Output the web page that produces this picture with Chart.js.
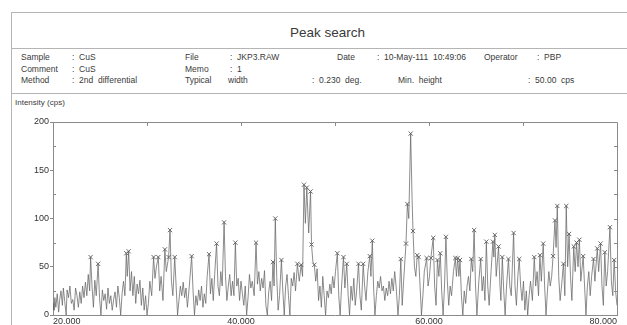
<!DOCTYPE html>
<html><head><meta charset="utf-8">
<script src="https://cdn.jsdelivr.net/npm/chart.js@4/dist/chart.umd.min.js"></script>
<style>
html,body{margin:0;padding:0;width:627px;height:325px;overflow:hidden;background:#fff;}
.t{position:absolute;font-family:"Liberation Sans",Arial,sans-serif;font-size:8.5px;line-height:10px;color:#3a3a3a;white-space:pre;}
.ln{position:absolute;background:#b5b5b5;}
#c{position:absolute;left:0;top:0;}
</style></head><body>
<div class="ln" style="left:11px;top:12px;width:616px;height:1px"></div>
<div class="ln" style="left:11px;top:12px;width:1px;height:313px"></div>
<div class="ln" style="left:11px;top:48px;width:616px;height:1px"></div>
<div class="ln" style="left:11px;top:93px;width:616px;height:1px"></div>
<div class="t" style="left:290px;top:25px;font-size:13.5px;line-height:16px;">Peak search</div>
<div class="t" style="left:21px;top:52px">Sample</div>
<div class="t" style="left:72px;top:52px">:  CuS</div>
<div class="t" style="left:185px;top:52px">File</div>
<div class="t" style="left:230px;top:52px">:  JKP3.RAW</div>
<div class="t" style="left:337px;top:52px">Date</div>
<div class="t" style="left:377px;top:52px">:  10-May-111  10:49:06</div>
<div class="t" style="left:484px;top:52px">Operator</div>
<div class="t" style="left:537px;top:52px">:  PBP</div>
<div class="t" style="left:21px;top:64px">Comment</div>
<div class="t" style="left:72px;top:64px">:  CuS</div>
<div class="t" style="left:185px;top:64px">Memo</div>
<div class="t" style="left:230px;top:64px">:  1</div>
<div class="t" style="left:21px;top:75px">Method</div>
<div class="t" style="left:72px;top:75px">:  2nd  differential</div>
<div class="t" style="left:185px;top:75px">Typical</div>
<div class="t" style="left:228px;top:75px">width</div>
<div class="t" style="left:312px;top:75px">:  0.230  deg.</div>
<div class="t" style="left:398px;top:75px">Min.  height</div>
<div class="t" style="left:528px;top:75px">:  50.00  cps</div>
<div class="t" style="left:15px;top:98px;font-size:8px;">Intensity (cps)</div>
<canvas id="c" width="627" height="340"></canvas>
<script>
const twoTheta = [
20.0,20.1,20.2,20.3,20.45,20.6,20.7,20.85,21.0,21.1,21.25,21.4,21.5,21.65,21.8,21.95,22.1,22.25,22.4,22.55,22.7,22.85,23.0,23.15,23.3,23.45,23.6,23.75,23.9,24.0,24.15,24.3,24.45,24.6,24.8,24.95,
25.1,25.25,25.4,25.55,25.7,25.85,26.0,26.15,26.3,26.45,26.6,26.75,26.9,27.05,27.2,27.35,27.5,27.65,27.8,27.9,28.05,28.2,28.35,28.5,28.65,28.8,28.95,29.1,29.25,29.4,29.55,29.7,29.85,
30.0,30.15,30.3,30.5,30.7,30.85,31.0,31.2,31.35,31.5,31.7,31.9,32.05,32.3,32.45,32.6,32.75,32.95,33.1,33.25,33.4,33.55,33.7,33.85,34.0,34.15,34.3,34.5,34.75,34.9,
35.05,35.2,35.35,35.5,35.65,35.8,35.95,36.1,36.25,36.4,36.6,36.75,36.9,37.05,37.2,37.4,37.55,37.7,37.85,38.0,38.2,38.35,38.5,38.65,38.8,38.95,39.1,39.25,39.4,39.55,39.7,39.85,
40.0,40.15,40.3,40.45,40.6,40.75,40.9,41.05,41.2,41.4,41.6,41.75,41.9,42.05,42.2,42.35,42.5,42.65,42.8,42.95,43.1,43.25,43.4,43.52,43.65,43.8,43.95,44.1,44.3,44.45,44.6,44.75,44.9,
45.05,45.2,45.35,45.5,45.65,45.8,46.0,46.2,46.4,46.55,46.7,46.85,47.0,47.2,47.4,47.5,47.65,47.8,47.95,48.1,48.25,48.4,48.55,48.7,48.85,49.0,49.15,49.3,49.45,49.6,49.75,49.9,
50.05,50.25,50.4,50.55,50.7,50.9,51.05,51.25,51.4,51.55,51.7,51.85,52.0,52.15,52.3,52.5,52.65,52.8,53.0,53.15,53.3,53.5,53.7,53.82,53.97,54.1,54.25,54.4,54.55,54.7,54.85,
55.0,55.15,55.3,55.45,55.6,55.75,55.9,56.05,56.2,56.35,56.5,56.7,56.85,57.0,57.15,57.3,57.55,57.7,57.85,58.05,58.2,58.3,58.45,58.6,58.75,58.9,59.05,59.2,59.35,59.5,59.75,59.9,
60.05,60.2,60.45,60.6,60.75,60.9,61.05,61.2,61.35,61.5,61.65,61.8,61.95,62.1,62.25,62.4,62.6,62.8,62.92,63.05,63.18,63.3,63.45,63.6,63.75,63.9,64.05,64.2,64.35,64.5,64.65,64.8,64.95,
65.1,65.3,65.5,65.65,65.8,65.95,66.1,66.25,66.4,66.6,66.8,66.9,67.0,67.15,67.4,67.55,67.65,67.8,67.95,68.1,68.25,68.45,68.6,68.75,69.0,69.15,69.3,69.45,69.6,69.75,69.9,
70.05,70.2,70.35,70.5,70.65,70.8,71.0,71.2,71.35,71.5,71.65,71.8,71.95,72.15,72.3,72.45,72.6,72.75,72.9,73.05,73.2,73.4,73.52,73.65,73.8,73.95,74.1,74.3,74.45,74.6,74.75,74.9,
75.05,75.2,75.4,75.55,75.7,75.85,76.0,76.15,76.4,76.55,76.7,76.85,77.0,77.15,77.3,77.5,77.65,77.9,78.05,78.25,78.4,78.55,78.7,78.85,79.0,79.25,79.4,79.55,79.7,79.85,80.0
];
// intensity (cps) at each position
const counts = [
12,5,18,8,22,3,15,25,10,28,14,0,26,18,30,12,16,5,28,20,8,24,12,30,18,34,20,42,25,60,30,8,36,20,53,18,
0,26,15,22,6,28,12,20,5,16,24,8,30,18,0,22,35,20,64,40,66,25,45,20,40,12,32,22,36,10,28,5,20,
0,12,35,20,60,38,50,60,25,40,15,68,45,60,88,35,20,60,30,0,15,30,20,34,18,28,8,30,61,25,
0,20,10,26,15,30,8,22,12,40,63,22,38,15,42,74,30,20,45,30,96,40,15,30,42,20,35,20,75,30,38,15,
35,22,10,30,0,18,42,28,35,20,75,32,45,25,38,28,46,10,0,24,35,15,55,30,100,40,5,20,57,25,0,30,42,
20,0,38,30,44,25,53,35,52,40,135,95,132,85,128,73,55,52,35,48,15,30,8,40,20,0,25,18,32,22,40,28,
45,64,20,0,30,60,28,53,20,0,30,15,38,10,25,53,20,5,53,30,15,45,61,40,77,30,0,20,35,28,40,
25,30,15,28,20,35,22,38,25,45,30,0,20,58,10,35,74,115,100,188,120,87,50,40,62,60,30,0,20,45,59,30,
40,59,80,30,10,57,40,64,25,0,30,81,35,10,30,20,45,59,40,59,40,57,20,0,25,12,30,40,25,58,45,88,30,
0,35,58,25,40,15,76,30,10,45,76,60,83,40,71,30,15,60,25,0,30,58,30,20,85,30,10,40,58,30,15,
35,5,25,0,20,35,15,60,30,45,20,62,35,74,30,0,25,45,30,40,61,98,70,113,40,15,30,53,20,113,50,84,
40,15,71,45,75,50,78,35,61,30,0,30,45,20,40,58,35,69,45,74,30,10,65,30,45,91,35,20,57,25,10
];
// peaks found by the search (x marks)
const peakTheta = [24.0,24.8,27.8,28.05,30.7,31.2,31.9,32.3,32.45,32.95,34.75,36.6,37.4,38.2,39.4,41.6,43.4,43.65,44.3,46.0,
46.4,46.7,47.0,47.4,47.5,47.8,50.25,50.9,51.25,52.5,53.0,53.7,53.97,57.0,57.55,57.7,58.05,58.3,58.75,58.9,
59.75,60.2,60.45,60.9,61.2,61.8,62.8,63.05,63.3,64.5,64.8,65.5,66.1,66.8,67.0,67.4,67.8,68.45,69.0,69.6,
71.2,71.8,72.15,73.2,73.4,73.65,74.3,74.6,74.9,75.4,75.7,76.0,76.4,77.5,77.9,78.25,78.7,79.25,79.7];
const peakCounts = [60,53,64,66,60,60,68,60,88,60,61,63,74,96,75,75,55,100,57,53,
52,135,132,128,73,52,64,60,53,53,53,61,77,58,74,115,188,87,62,60,
59,59,80,57,64,81,59,59,57,58,88,58,76,76,83,71,60,58,85,58,
60,62,74,61,98,113,53,113,84,71,75,78,61,58,69,74,65,91,57];
const xTicks = [20, 40, 60, 80];
const yTicks = [0, 50, 100, 150, 200];

const profile = twoTheta.map((x, i) => ({x, y: counts[i]}));
const peaks = peakTheta.map((x, i) => ({x, y: peakCounts[i]}));

const frame = {
  id: 'frame',
  afterDraw(chart) {
    const {ctx, chartArea: a, scales: {x, y}} = chart;
    ctx.save();
    ctx.strokeStyle = '#8a8a8a';
    ctx.lineWidth = 1;
    ctx.beginPath();
    ctx.moveTo(a.left, a.top + 0.5); ctx.lineTo(a.right + 0.5, a.top + 0.5); ctx.lineTo(a.right + 0.5, a.bottom);
    for (let v = 30; v < 80; v += 10) { const px = Math.round(x.getPixelForValue(v)) + 0.5; ctx.moveTo(px, a.top); ctx.lineTo(px, a.top + 4); }
    for (let v = 25; v < 200; v += 25) { const py = Math.round(y.getPixelForValue(v)) + 0.5; ctx.moveTo(a.right, py); ctx.lineTo(a.right - 3, py); }
    for (let v = 25; v < 200; v += 50) { const py = Math.round(y.getPixelForValue(v)) + 0.5; ctx.moveTo(a.left, py); ctx.lineTo(a.left + 3, py); }
    ctx.stroke();
    ctx.restore();
  }
};

new Chart(document.getElementById('c'), {
  type: 'scatter',
  data: {
    datasets: [
      {data: profile, showLine: true, pointRadius: 0, borderColor: '#666666', borderWidth: 0.75, tension: 0},
      {data: peaks, showLine: false, pointStyle: 'crossRot', pointRadius: 3, borderColor: '#5a5a5a', borderWidth: 0.9}
    ]
  },
  options: {
    responsive: false, animation: false, devicePixelRatio: 1,
    layout: {padding: {top: 122, right: 10, left: 0, bottom: 0}},
    plugins: {legend: {display: false}, tooltip: {enabled: false}},
    scales: {
      x: {
        type: 'linear', min: 20, max: 80,
        afterBuildTicks: s => { s.ticks = xTicks.map(v => ({value: v})); },
        afterFit: s => { s.height = 25; },
        ticks: {align: 'inner', padding: 1, color: '#333', font: {family: 'Liberation Sans', size: 9}, callback: v => v.toFixed(3)},
        grid: {drawOnChartArea: false, drawTicks: false},
        border: {color: '#8a8a8a'}
      },
      y: {
        min: 0, max: 200,
        afterBuildTicks: s => { s.ticks = yTicks.map(v => ({value: v})); },
        afterFit: s => { s.width = 53; },
        ticks: {padding: 1, color: '#333', font: {family: 'Liberation Sans', size: 9}},
        grid: {drawOnChartArea: false, drawTicks: true, tickLength: 3, color: '#8a8a8a'},
        border: {color: '#8a8a8a'}
      }
    }
  },
  plugins: [frame]
});
</script>
</body></html>
